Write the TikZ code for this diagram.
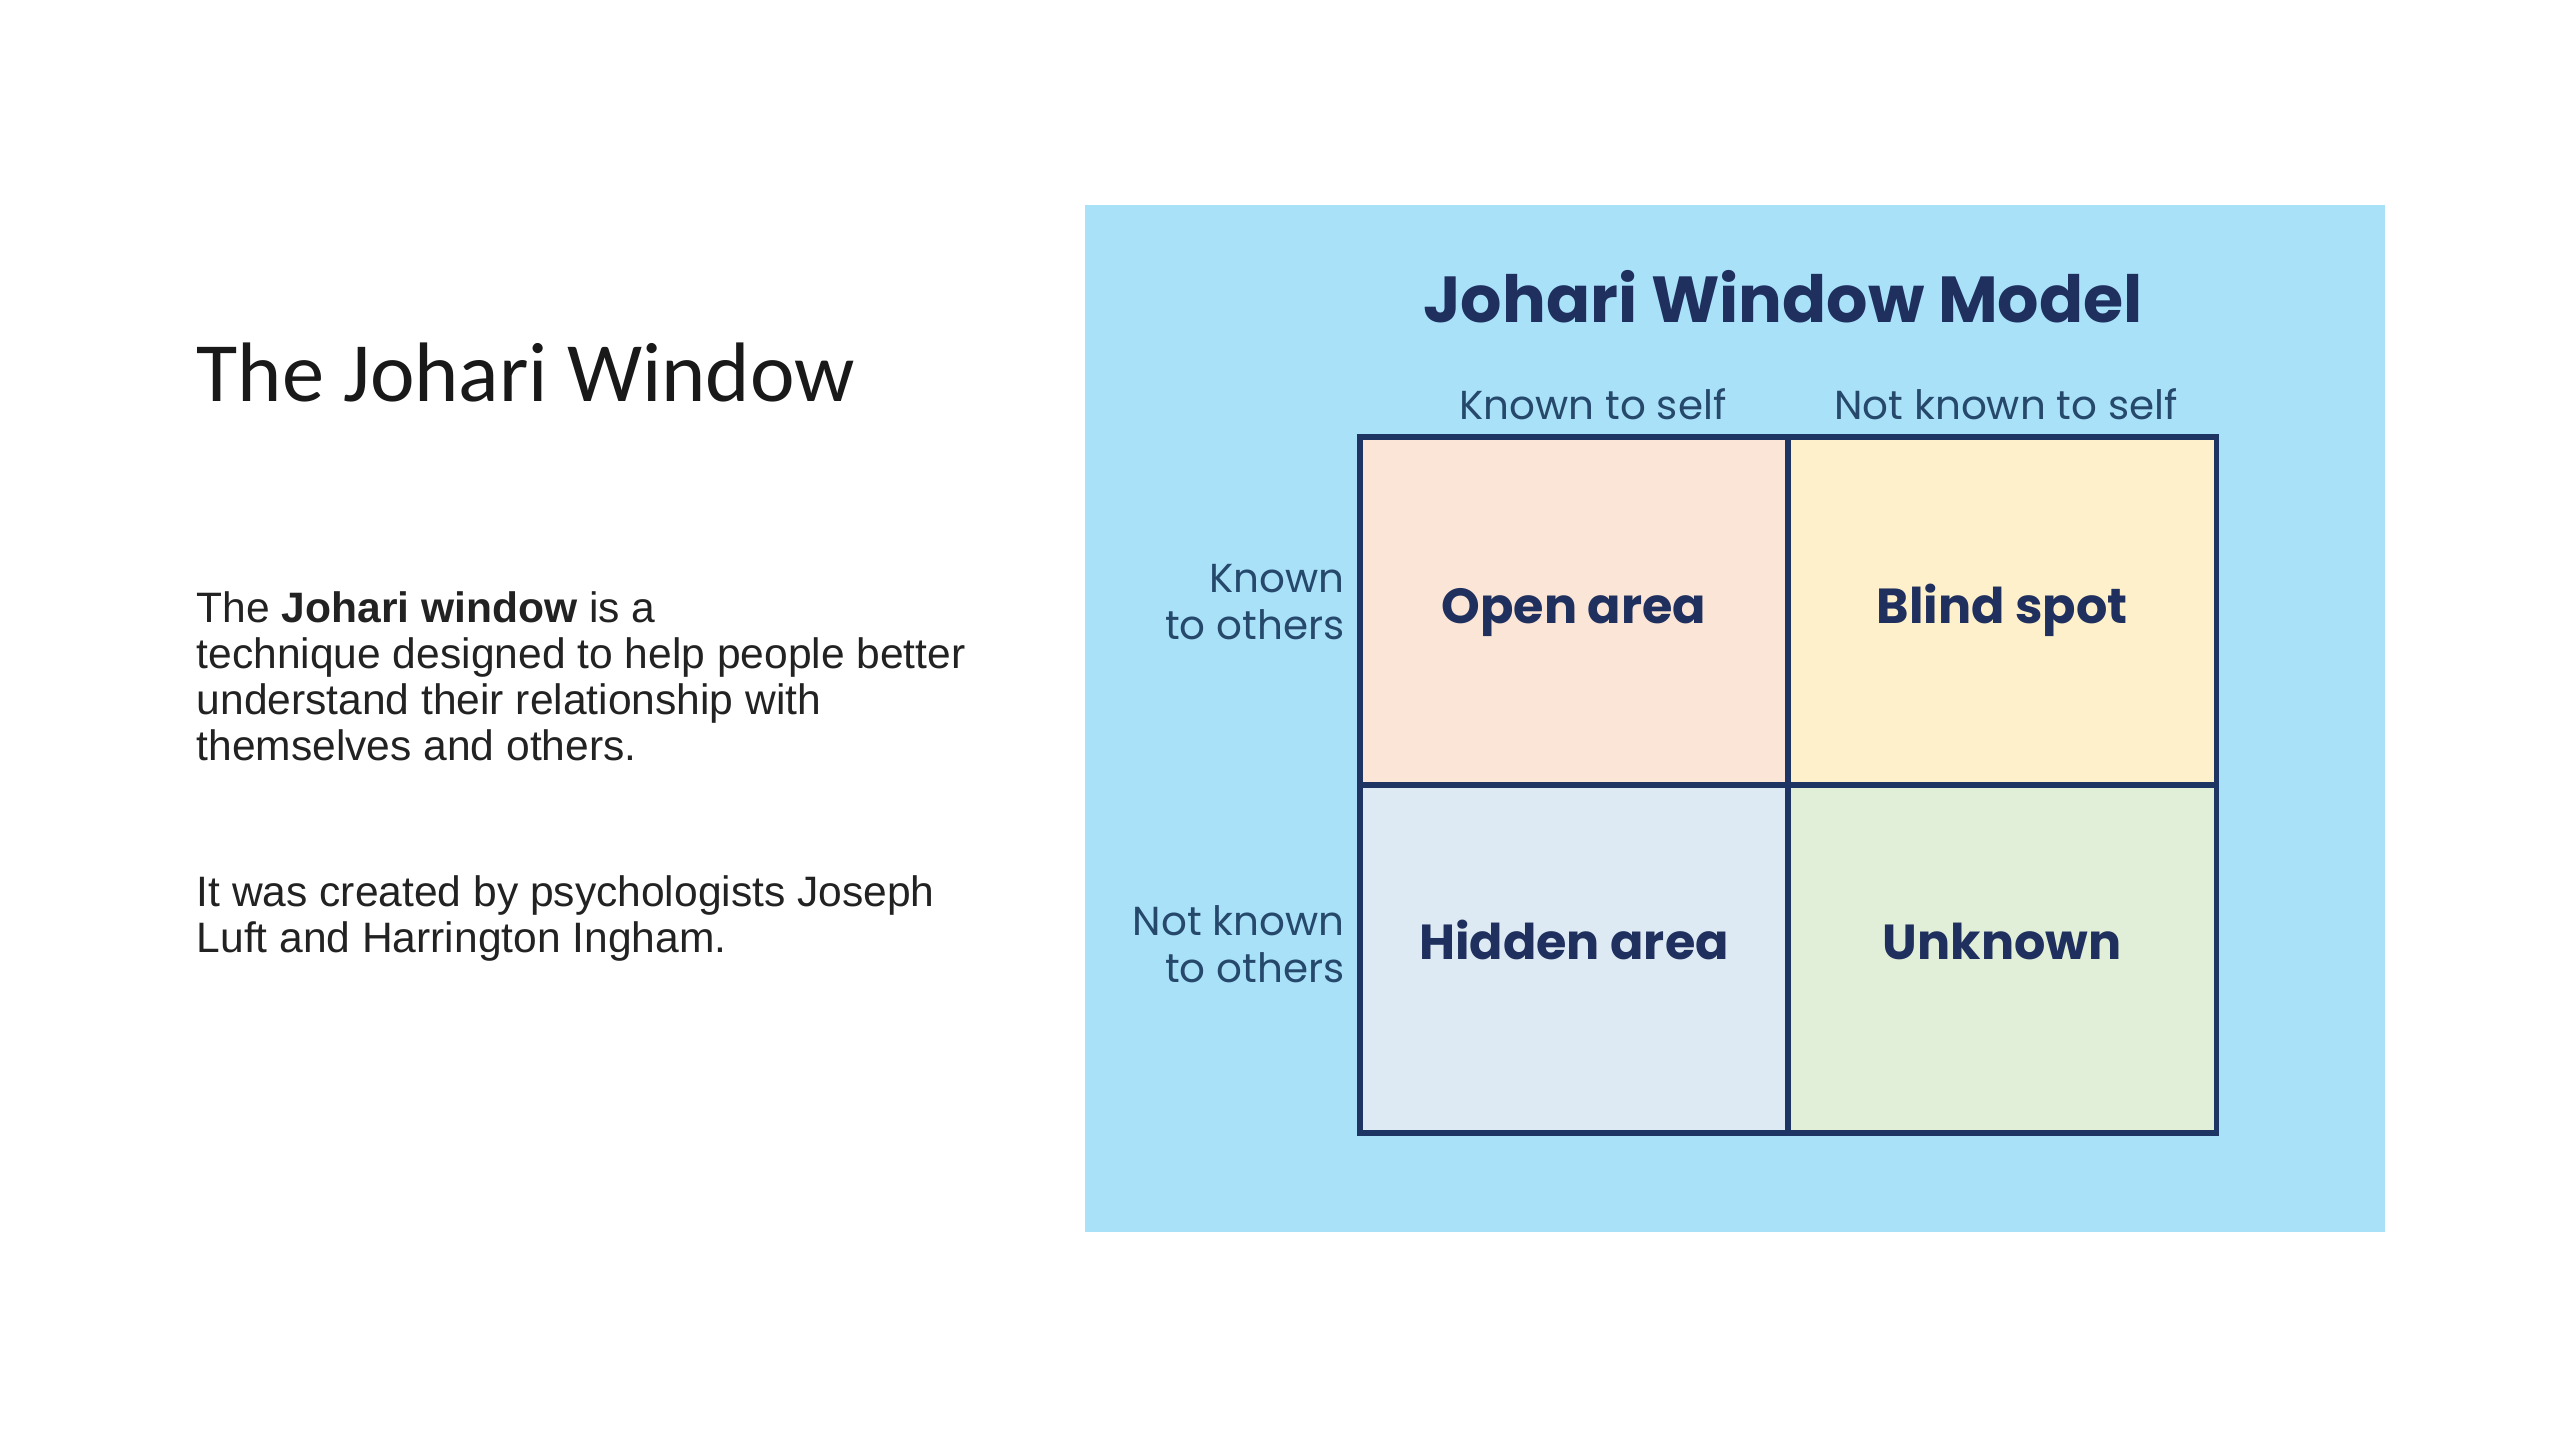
\documentclass[tikz,border=0pt]{standalone}
\usepackage{fontspec}
\setmainfont{Liberation Sans}
\newfontfamily\poppins{Poppins}
\newfontfamily\carlito{Carlito}
\usetikzlibrary{positioning}
\definecolor{panelblue}{HTML}{A9E1F9}
\definecolor{gridnavy}{HTML}{1E3563}
\definecolor{titlenavy}{HTML}{1F2F5E}
\definecolor{labelnavy}{HTML}{25486B}
\definecolor{openfill}{HTML}{FAE5D6}
\definecolor{blindfill}{HTML}{FDF0CA}
\definecolor{hiddenfill}{HTML}{DEEAF3}
\definecolor{unknownfill}{HTML}{E2EFD8}
\definecolor{bodygray}{HTML}{222222}
\tikzset{
  cell_node/.style = {rectangle, draw=gridnavy, line width=1.6pt,
    outer sep=0pt, inner sep=0pt,
    minimum width=4.28cm, minimum height=3.48cm},% one pane of the window
  area_label/.style = {anchor=base, inner sep=0pt, text=titlenavy,
    font=\poppins\bfseries\fontsize{14}{16}\selectfont},% name of a pane
  side_label/.style = {inner sep=0pt, text=labelnavy, align=right,
    font=\poppins\fontsize{11.5}{13.4}\selectfont},% row / column heading
  body_text/.style = {anchor=north west, inner sep=0pt, align=left,
    text=bodygray, font=\fontsize{12.1}{13.1}\selectfont}% slide text
}

\begin{document}
\begin{tikzpicture}[x=0.01cm, y=-0.01cm]
  \useasboundingbox (0,0) rectangle (2560,1440);
  \fill[white] (0,0) rectangle (2560,1440);
  % left part of the slide
  \node[anchor=base west, inner sep=0pt, text=black!90,
    font=\carlito\fontsize{24}{28}\selectfont] (heading) at (196,402) {The Johari Window};
  \node[body_text] (intro) at (196,591) {The \textbf{Johari window} is a\\
    technique designed to help people better\\
    understand their relationship with\\
    themselves and others.};
  \node[body_text] (origin) at (196,875) {It was created by psychologists Joseph\\
    Luft and Harrington Ingham.};
  % the model
  \fill[panelblue] (1085,205) rectangle (2385,1232);
  \node[anchor=base, inner sep=0pt, text=titlenavy,
    font=\poppins\bfseries\fontsize{18.5}{22}\selectfont] (model) at (1783,323) {Johari Window Model};
  \node[cell_node, fill=openfill] (open) at (1574,611) {};
  \node[cell_node, fill=blindfill, right=0pt of open] (blind) {};
  \node[cell_node, fill=hiddenfill, below=0pt of open] (hidden) {};
  \node[cell_node, fill=unknownfill, right=0pt of hidden] (unknown) {};
  \node[area_label] (open_txt) at ([yshift=-0.12cm]open.center) {Open area};
  \node[area_label] (blind_txt) at ([yshift=-0.12cm]blind.center) {Blind spot};
  \node[area_label] (hidden_txt) at (hidden.center) {Hidden area};
  \node[area_label] (unknown_txt) at (unknown.center) {Unknown};
  \node[side_label, anchor=base] (self_known) at (1593,420) {Known to self};
  \node[side_label, anchor=base] (self_unknown) at (2006,420) {Not known to self};
  \node[side_label, anchor=east] (others_known) at (1345,602) {Known\\to others};
  \node[side_label, anchor=east] (others_unknown) at (1345,944) {Not known\\to others};
\end{tikzpicture}
\end{document}
